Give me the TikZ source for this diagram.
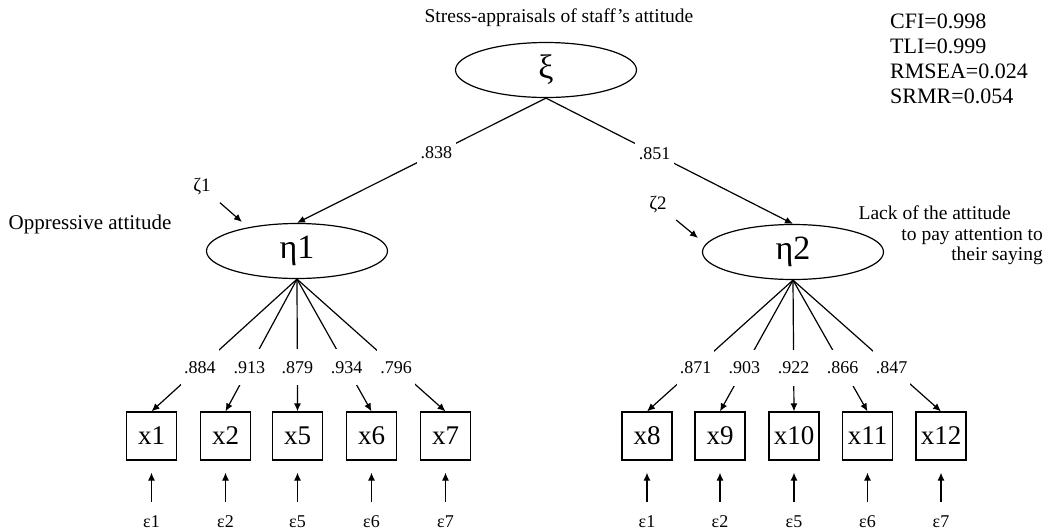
\documentclass[tikz,border=0pt]{standalone}
\usepackage{fontspec}
\setmainfont{Liberation Serif}
\usepackage{tikz}
\usetikzlibrary{arrows.meta,shapes.geometric}
\tikzset{
  lab/.style={font=\fontsize{19.5}{20.5}\selectfont, inner sep=0pt},
  num/.style={font=\fontsize{18}{19}\selectfont, fill=white, inner xsep=3pt, inner ysep=12pt},
  err/.style={font=\fontsize{18}{18}\selectfont, inner sep=0pt},
  latentShape/.style={draw, ellipse, line width=1.2pt, minimum width=181pt, minimum height=55pt, inner sep=0pt, font=\fontsize{34}{36}\selectfont},
  boxShape/.style={draw, rectangle, line width=1.2pt, minimum width=50pt, minimum height=48pt, inner sep=0pt, font=\fontsize{27}{29}\selectfont},
  pathLine/.style={line width=1.2pt, -{Latex[length=8pt,width=7pt]}}
}

\begin{document}
\begin{tikzpicture}[x=1pt,y=-1pt]
\useasboundingbox (0,0) rectangle (1045,531);

% second order factor
\node[lab] (title) at (559,18) {Stress-appraisals of staff’s attitude};
\node[latentShape] (xi) at (546,70) {ξ};

% fit indices
\node[lab, font=\fontsize{22}{25}\selectfont, align=left, anchor=north west] (fit) at (890,14) {CFI=0.998\\TLI=0.999\\RMSEA=0.024\\SRMR=0.054};

% first order factors
\node[latentShape] (eta1) at (297,251) {η1};
\node[latentShape] (eta2) at (793,252) {η2};
\node[lab, font=\fontsize{21}{22}\selectfont] (opp) at (90,224) {Oppressive attitude};
\node[lab, align=right, anchor=north east] (lack) at (1043,206) {Lack of the attitude\hspace*{32pt}\\to pay attention to\hspace*{6pt}\\their saying};

\draw[pathLine] (xi.south) -- node[num, inner xsep=4pt, inner ysep=7pt, pos=0.44] {.838} (eta1.north);
\draw[pathLine] (xi.south) -- node[num, inner xsep=4pt, inner ysep=7pt, pos=0.44] {.851} (eta2.north);

% disturbances
\node[lab, font=\fontsize{19}{19}\selectfont] (zeta1) at (202,187) {ζ1};
\coordinate (z1tip) at (242,222);
\draw[pathLine, shorten <=12pt] (zeta1) -- (z1tip);
\node[lab, font=\fontsize{19}{19}\selectfont] (zeta2) at (658,205) {ζ2};
\coordinate (z2tip) at (698,238);
\draw[pathLine, shorten <=12pt] (zeta2) -- (z2tip);

% indicators of eta1
\node[boxShape] (x1) at (151.5,436) {x1};
\node[boxShape] (x2) at (225.5,436) {x2};
\node[boxShape] (x5) at (297.5,436) {x5};
\node[boxShape] (x6) at (371.5,436) {x6};
\node[boxShape] (x7) at (445.5,436) {x7};
\draw[pathLine] (eta1.south) -- node[num, pos=0.667] {.884} (x1.north);
\draw[pathLine] (eta1.south) -- node[num, pos=0.667] {.913} (x2.north);
\draw[pathLine] (eta1.south) -- node[num, pos=0.667] {.879} (x5.north);
\draw[pathLine] (eta1.south) -- node[num, pos=0.667] {.934} (x6.north);
\draw[pathLine] (eta1.south) -- node[num, pos=0.667] {.796} (x7.north);

% indicators of eta2
\node[boxShape] (x8) at (647,436) {x8};
\node[boxShape] (x9) at (720,436) {x9};
\node[boxShape] (x10) at (794,436) {x10};
\node[boxShape] (x11) at (867.5,436) {x11};
\node[boxShape] (x12) at (941,436) {x12};
\draw[pathLine] (eta2.south) -- node[num, pos=0.667] {.871} (x8.north);
\draw[pathLine] (eta2.south) -- node[num, pos=0.667] {.903} (x9.north);
\draw[pathLine] (eta2.south) -- node[num, pos=0.667] {.922} (x10.north);
\draw[pathLine] (eta2.south) -- node[num, pos=0.667] {.866} (x11.north);
\draw[pathLine] (eta2.south) -- node[num, pos=0.667] {.847} (x12.north);

% measurement errors
\node[err] (e1) at (151.5,522) {ε1};
\node[err] (e2) at (225.5,522) {ε2};
\node[err] (e5) at (297.5,522) {ε5};
\node[err] (e6) at (371.5,522) {ε6};
\node[err] (e7) at (445.5,522) {ε7};
\node[err] (e1b) at (647,522) {ε1};
\node[err] (e2b) at (720,522) {ε2};
\node[err] (e5b) at (794,522) {ε5};
\node[err] (e6b) at (867.5,522) {ε6};
\node[err] (e7b) at (941,522) {ε7};
\draw[pathLine, shorten <=14pt, shorten >=12pt] (e1) -- (x1);
\draw[pathLine, shorten <=14pt, shorten >=12pt] (e2) -- (x2);
\draw[pathLine, shorten <=14pt, shorten >=12pt] (e5) -- (x5);
\draw[pathLine, shorten <=14pt, shorten >=12pt] (e6) -- (x6);
\draw[pathLine, shorten <=14pt, shorten >=12pt] (e7) -- (x7);
\draw[pathLine, shorten <=14pt, shorten >=12pt] (e1b) -- (x8);
\draw[pathLine, shorten <=14pt, shorten >=12pt] (e2b) -- (x9);
\draw[pathLine, shorten <=14pt, shorten >=12pt] (e5b) -- (x10);
\draw[pathLine, shorten <=14pt, shorten >=12pt] (e6b) -- (x11);
\draw[pathLine, shorten <=14pt, shorten >=12pt] (e7b) -- (x12);
\end{tikzpicture}
\end{document}
